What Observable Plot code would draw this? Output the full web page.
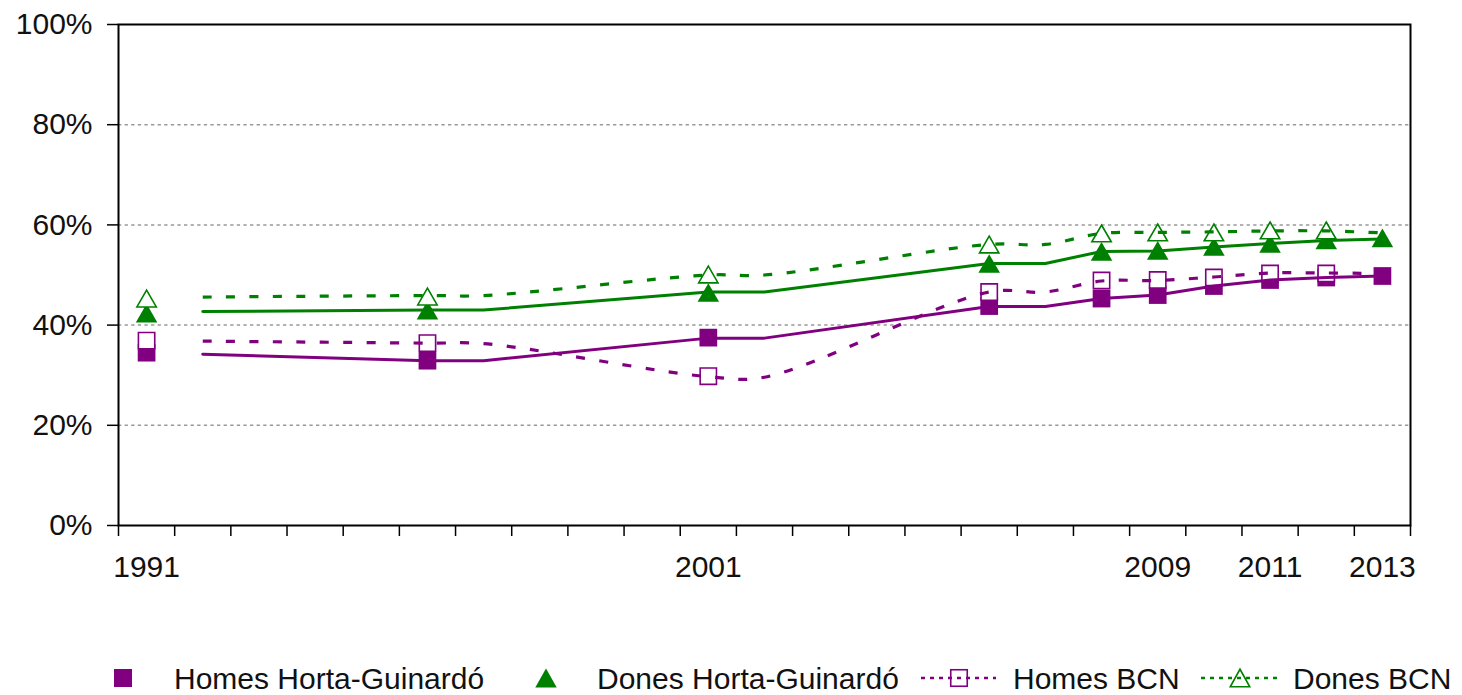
<!DOCTYPE html>
<html>
<head>
<meta charset="utf-8">
<script src="https://cdn.jsdelivr.net/npm/d3@7"></script>
<script src="https://cdn.jsdelivr.net/npm/@observablehq/plot@0.6"></script>
<style>
  html, body { margin: 0; padding: 0; background: #fff; }
  #chart svg { display: block; }
</style>
</head>
<body>
<div id="chart"></div>
<script>
// ---- data ----
const allYears = d3.range(1991, 2014); // category axis 1991..2013
const xLabelYears = [1991, 2001, 2009, 2011, 2013];
const yTicks = [0, 20, 40, 60, 80, 100];

const markerYears = [1991, 1996, 2001, 2006, 2008, 2009, 2010, 2011, 2012, 2013];
const homesHG = [34.5, 32.9, 37.5, 43.8, 45.3, 46.0, 47.8, 49.0, 49.5, 49.8];
const donesHG = [42.4, 43.0, 46.5, 52.3, 54.7, 54.9, 55.7, 56.3, 57.0, 57.4];
const bcnMarkerYears = [1991, 1996, 2001, 2006, 2008, 2009, 2010, 2011, 2012];
const homesBCN = [36.9, 36.4, 29.8, 46.6, 48.9, 49.0, 49.5, 50.3, 50.3];
const donesBCN = [45.3, 45.7, 50.1, 56.1, 58.3, 58.5, 58.5, 58.9, 58.9];

const lineYears = [1992, 1996, 1997, 2001, 2002, 2006, 2007, 2008, 2009, 2010, 2011, 2012, 2013];
const homesHGLine = [34.2, 32.9, 32.9, 37.4, 37.4, 43.7, 43.7, 45.3, 46.0, 47.8, 49.0, 49.5, 49.8];
const donesHGLine = [42.7, 43.0, 43.0, 46.6, 46.6, 52.3, 52.3, 54.7, 54.8, 55.6, 56.3, 56.9, 57.2];
const homesBCNLine = [36.8, 36.4, 36.3, 29.7, 29.6, 46.6, 46.6, 48.8, 48.9, 49.6, 50.4, 50.4, 50.3];
const donesBCNLine = [45.6, 45.9, 45.9, 50.0, 50.0, 56.1, 56.1, 58.3, 58.5, 58.6, 58.8, 58.8, 58.4];

const seriesNames = ["Homes Horta-Guinardó", "Dones Horta-Guinardó", "Homes BCN", "Dones BCN"];
const PURPLE = "#800080", GREEN = "#008000";

// ---- tables ----
const zip = (xs, vs) => xs.map((x, i) => ({year: x, v: vs[i]}));
const mHomesHG = zip(markerYears, homesHG);
const mDonesHG = zip(markerYears, donesHG);
const mHomesBCN = zip(bcnMarkerYears, homesBCN);
const mDonesBCN = zip(bcnMarkerYears, donesBCN);
const lHomesHG = zip(lineYears, homesHGLine);
const lDonesHG = zip(lineYears, donesHGLine);
const lHomesBCN = zip(lineYears, homesBCNLine);
const lDonesBCN = zip(lineYears, donesBCNLine);
const boundaries = allYears.map(y => y - 0.5).concat([allYears[allYears.length - 1] + 0.5]);

const FONT = "'Liberation Sans', Arial, sans-serif";
const FS = 30;

const chart = Plot.plot({
  width: 1462,
  height: 610,
  marginLeft: 118,
  marginRight: 52,
  marginTop: 24,
  marginBottom: 85,
  x: {type: "linear", domain: [boundaries[0], boundaries[boundaries.length - 1]]},
  y: {domain: [0, 100]},
  style: {fontFamily: FONT, fontSize: FS + "px", color: "#111", background: "#fff"},
  marks: [
    Plot.gridY(yTicks.filter(d => d > 0 && d < 100), {stroke: "#999", strokeOpacity: 1, strokeWidth: 1.5, strokeDasharray: "3.3,3.3"}),
    Plot.axisY({ticks: yTicks, tickSize: 11, tickPadding: 15, tickFormat: d => d + "%", fontSize: FS, strokeWidth: 1.5, stroke: "#000", label: null}),
    Plot.axisX({ticks: boundaries, tickSize: 11, tickFormat: () => "", strokeWidth: 1.5, stroke: "#000", label: null}),
    Plot.axisX({ticks: xLabelYears, tickSize: 0, tickPadding: 30, tickFormat: d => String(d), fontSize: FS, label: null}),
    Plot.frame({stroke: "#000", strokeWidth: 2}),
    // markers
    Plot.dot(mHomesHG, {x: "year", y: "v", symbol: "square", r: 10, fill: PURPLE, stroke: "none"}),
    Plot.dot(mDonesHG, {x: "year", y: "v", symbol: "triangle", r: 8, dy: 3.1, fill: GREEN, stroke: "none"}),
    Plot.dot(mHomesBCN, {x: "year", y: "v", symbol: "square", r: 9.2, fill: "#fff", stroke: PURPLE, strokeWidth: 1.6}),
    Plot.dot(mDonesBCN, {x: "year", y: "v", symbol: "triangle", r: 7.2, dy: 2.8, fill: "#fff", stroke: GREEN, strokeWidth: 1.6}),
    // lines
    Plot.line(lHomesHG, {x: "year", y: "v", stroke: PURPLE, strokeWidth: 3}),
    Plot.line(lDonesHG, {x: "year", y: "v", stroke: GREEN, strokeWidth: 3}),
    Plot.line(lHomesBCN, {x: "year", y: "v", stroke: PURPLE, strokeWidth: 3.2, strokeDasharray: "9,14.4", curve: "catmull-rom", strokeLinecap: "butt"}),
    Plot.line(lDonesBCN, {x: "year", y: "v", stroke: GREEN, strokeWidth: 3.2, strokeDasharray: "9,14.4", curve: "catmull-rom", strokeLinecap: "butt"})
  ]
});
document.getElementById("chart").appendChild(chart);

// ---- legend (below the plot svg) ----
const legend = d3.select("#chart").append("svg")
  .attr("width", 1462).attr("height", 85)
  .style("display", "block")
  .attr("font-family", FONT).attr("font-size", FS);
const cy = 68;
const items = [
  {name: seriesNames[0], sym: "square", filled: true, color: PURPLE, cx: 123, line: null, tx: 174},
  {name: seriesNames[1], sym: "triangle", filled: true, color: GREEN, cx: 546, line: null, tx: 597},
  {name: seriesNames[2], sym: "square", filled: false, color: PURPLE, cx: 959, line: [921, 996], tx: 1013},
  {name: seriesNames[3], sym: "triangle", filled: false, color: GREEN, cx: 1240, line: [1201, 1278], tx: 1293}
];
for (const it of items) {
  const g = legend.append("g");
  if (it.sym === "square") {
    const size = it.filled ? 18 : 16.5;
    g.append("rect")
      .attr("x", it.cx - size / 2).attr("y", cy - size / 2)
      .attr("width", size).attr("height", size)
      .attr("fill", it.filled ? it.color : "#fff")
      .attr("stroke", it.filled ? "none" : it.color)
      .attr("stroke-width", 1.6);
  } else {
    const w = it.filled ? 21.5 : 19.5, h = it.filled ? 19 : 17.5;
    g.append("path")
      .attr("d", `M${it.cx},${cy - h / 2}L${it.cx + w / 2},${cy + h / 2}L${it.cx - w / 2},${cy + h / 2}Z`)
      .attr("fill", it.filled ? it.color : "#fff")
      .attr("stroke", it.filled ? "none" : it.color)
      .attr("stroke-width", 1.6);
  }
  if (it.line) {
    g.append("line")
      .attr("x1", it.line[0]).attr("x2", it.line[1])
      .attr("y1", cy).attr("y2", cy)
      .attr("stroke", it.color).attr("stroke-width", 2.5)
      .attr("stroke-dasharray", "4,5");
  }
  g.append("text").attr("x", it.tx).attr("y", cy + 10.5).attr("fill", "#111").text(it.name);
}
</script>
</body>
</html>
